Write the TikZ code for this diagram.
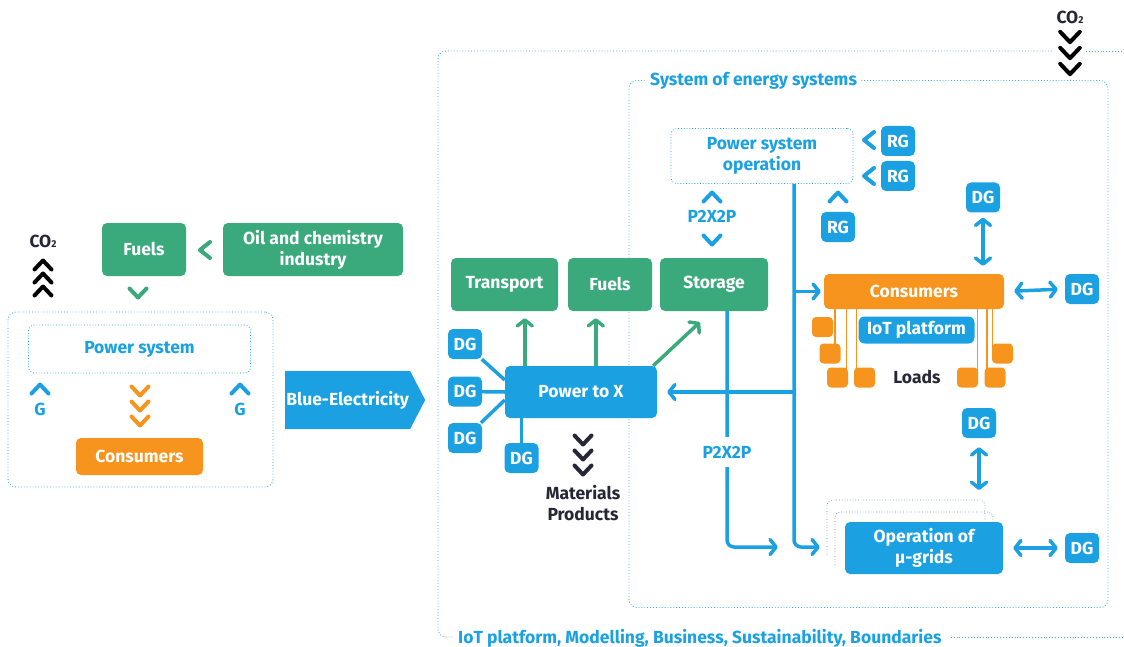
\documentclass[tikz,border=0pt]{standalone}
\usepackage{fontspec}
\setmainfont{Fira Sans}
\usetikzlibrary{arrows.meta,shapes.symbols,calc}
\definecolor{eblue}{HTML}{1BA1E2}
\definecolor{egreen}{HTML}{3AAA7D}
\definecolor{eorange}{HTML}{F7941D}
\definecolor{etext}{HTML}{262636}
\definecolor{edot}{HTML}{5C8FB0}
\begin{document}
\begin{tikzpicture}[x=1pt,y=-1pt,
  font=\bfseries\fontsize{17.5}{21}\selectfont,
  box/.style={rounded corners=5pt, text=white, align=center, inner sep=0pt},
  gbox/.style={box, fill=egreen},
  bbox/.style={box, fill=eblue},
  obox/.style={box, fill=eorange},
  dgbox/.style={bbox, minimum width=34pt, minimum height=30pt},
  loadsq/.style={fill=eorange, rounded corners=4pt, minimum width=21pt, minimum height=20pt, inner sep=0pt},
  dotbox/.style={draw=eblue, dotted, line width=0.8pt, rounded corners=6pt, text=eblue, align=center},
  frame/.style={draw=eblue!85, dotted, line width=0.9pt, rounded corners=8pt},
  lbl/.style={text=eblue, inner sep=1pt},
  bline/.style={draw=eblue, line width=3.5pt},
  barrow/.style={bline, -{Straight Barb[length=6pt,width=15pt,round]}},
  bdarrow/.style={bline, {Straight Barb[length=6pt,width=15pt,round]}-{Straight Barb[length=6pt,width=15pt,round]}},
  garrow/.style={draw=egreen, line width=3.5pt, -{Straight Barb[length=6pt,width=15pt,round]}},
  oline/.style={draw=eorange, line width=1.6pt},
  chevU/.pic={\draw[line width=4pt, line cap=round, line join=round] (-8.5,4.5)--(0,-4.5)--(8.5,4.5);},
  chevD/.pic={\draw[line width=4pt, line cap=round, line join=round] (-8.5,-4.5)--(0,4.5)--(8.5,-4.5);},
  chevL/.pic={\draw[line width=4pt, line cap=round, line join=round] (5,-8)--(-5,0)--(5,8);},
]
\useasboundingbox (0,0) rectangle (1124,647);

% ---------------- left part ----------------
\node[frame, minimum width=265pt, minimum height=175pt, inner sep=0pt] (leftframe) at (140.5,399.5) {};
\node[gbox, minimum width=84pt, minimum height=53pt] (fuelsL) at (144,249.5) {Fuels};
\node[gbox, minimum width=180pt, minimum height=53pt] (oil) at (313,249.5) {Oil and chemistry\\industry};
\node[dotbox, minimum width=222pt, minimum height=48pt] (psys) at (139.5,349) {Power system};
\node[obox, minimum width=127pt, minimum height=37pt] (consL) at (139.5,456.5) {Consumers};
\node[text=etext, inner sep=0pt] (co2L) at (43,241) {CO{\fontsize{10}{10}\selectfont 2}};
\pic[black] at (43,265) {chevU};
\pic[black] at (43,278) {chevU};
\pic[black] at (43,291) {chevU};
\pic[egreen] at (205,250) {chevL};
\pic[egreen] at (138,293) {chevD};
\pic[eblue] at (40,389) {chevU};
\node[lbl] (gL) at (40,409) {G};
\pic[eblue] at (240,389) {chevU};
\node[lbl] (gR) at (240,409) {G};
\pic[eorange] at (140,391) {chevD};
\pic[eorange] at (140,406) {chevD};
\pic[eorange] at (140,421) {chevD};

\node[shape=signal, signal to=east, signal pointer angle=125, fill=eblue, text=white,
      minimum width=140pt, minimum height=58pt, inner sep=0pt, anchor=west] (blueel) at (285,400) {Blue-Electricity};

% ---------------- outer frame ----------------
\draw[frame] (1052,51) -- (438,51) -- (438,637) -- (452,637);
\draw[frame] (1086,51) -- (1124,51);
\node[lbl, anchor=west] (iotlabel) at (457,638) {IoT platform, Modelling, Business, Sustainability, Boundaries};
\draw[frame] ([xshift=8pt]iotlabel.east |- 0,637) -- (1124,637);
\node[text=etext, inner sep=0pt] (co2R) at (1070,17) {CO{\fontsize{10}{10}\selectfont 2}};
\pic[black, scale=1.15] at (1070,37) {chevD};
\pic[black, scale=1.15] at (1070,53) {chevD};
\pic[black, scale=1.15] at (1070,69) {chevD};

% ---------------- system of energy systems ----------------
\node[frame, minimum width=479pt, minimum height=527pt, inner sep=0pt] (sos) at (868.5,344) {};
\node[fill=white, text=eblue, anchor=west, inner sep=4pt] (sostitle) at (646,81) {System of energy systems};

\node[dotbox, minimum width=182pt, minimum height=55pt, inner sep=0pt] (pso) at (762,156) {Power system\\operation};
\node[dgbox] (rg1) at (898,141) {RG};
\node[dgbox] (rg2) at (898,176) {RG};
\node[dgbox] (rg3) at (838,227) {RG};
\pic[eblue] at (869,140) {chevL};
\pic[eblue] at (869,176) {chevL};
\pic[eblue] at (838,197) {chevU};
\pic[eblue] at (712,197) {chevU};
\node[lbl] (p2x2pA) at (712,216) {P2X2P};
\pic[eblue] at (712,240) {chevD};

\node[gbox, minimum width=107pt, minimum height=53pt] (transport) at (504.5,284.5) {Transport};
\node[gbox, minimum width=84pt, minimum height=53pt] (fuelsR) at (610,284.5) {Fuels};
\node[gbox, minimum width=108pt, minimum height=53pt] (storage) at (714,284.5) {Storage};
\node[bbox, minimum width=152pt, minimum height=52pt] (p2x) at (581,392) {Power to X};

\node[dgbox] (dg1) at (465,344) {DG};
\node[dgbox] (dg2) at (465,391.5) {DG};
\node[dgbox] (dg3) at (465,438) {DG};
\node[dgbox] (dg4) at (521.5,458) {DG};
\draw[bline] (dg1) -- ($(p2x.west)+(0,-12)$);
\draw[bline] (dg2) -- (p2x.west);
\draw[bline] (dg3) -- ($(p2x.west)+(0,8)$);
\draw[bline] (dg4) -- (dg4 |- p2x.south);

\draw[garrow] ($(p2x.north west)+(20,0)$) -- ($(transport.south west)+(74,7)$);
\draw[garrow] ($(p2x.north west)+(91,0)$) -- ($(fuelsR.south west)+(28,7)$);
\draw[garrow] ($(p2x.north east)+(-4,0)$) -- ($(storage.south west)+(40,11)$);

\pic[etext] at (583,440) {chevD};
\pic[etext] at (583,455) {chevD};
\pic[etext] at (583,470) {chevD};
\node[text=etext, align=center, inner sep=0pt] (mat) at (583,503) {Materials\\Products};

% consumers / loads
\node[obox, minimum width=180pt, minimum height=35pt] (cons) at (914,291.5) {Consumers};
\node[loadsq] (l1) at (822.5,327) {};
\node[loadsq] (l2) at (830,353.5) {};
\node[loadsq] (l3) at (837.5,377.5) {};
\node[loadsq] (l4) at (864.5,377.5) {};
\node[loadsq] (r1) at (967.5,377.5) {};
\node[loadsq] (r2) at (995,377.5) {};
\node[loadsq] (r3) at (1002.5,353.5) {};
\draw[oline] ([xshift=5pt]l2.center) -- ([xshift=5pt]l2.center |- cons.south);
\draw[oline] ([xshift=9pt]l3.center) -- ([xshift=9pt]l3.center |- cons.south);
\draw[oline] ([xshift=-8pt]l4.center) -- ([xshift=-8pt]l4.center |- cons.south);
\draw[oline] ([xshift=10pt]r1.center) -- ([xshift=10pt]r1.center |- cons.south);
\draw[oline] ([xshift=-8pt]r2.center) -- ([xshift=-8pt]r2.center |- cons.south);
\draw[oline] ([xshift=-10pt]r3.center) -- ([xshift=-10pt]r3.center |- cons.south);
\node[bbox, rounded corners=6pt, minimum width=116pt, minimum height=27pt] (iot) at (916.5,330) {IoT platform};
\node[text=etext, inner sep=0pt] (loads) at (917,377) {Loads};

\node[dgbox] (dg5) at (983,197.5) {DG};
\node[dgbox] (dg6) at (1082,289) {DG};
\node[dgbox] (dg7) at (979,423) {DG};
\node[dgbox] (dg8) at (1082,548) {DG};

% micro grids
\draw[draw=edot, dotted, line width=0.7pt, rounded corners=5pt] (827,555) -- (827,500) -- (985,500) -- (985,520);
\draw[draw=edot, dotted, line width=0.7pt, rounded corners=5pt] (835,565) -- (835,512) -- (993,512) -- (993,522);
\node[bbox, minimum width=158pt, minimum height=52pt] (mgrid) at (924,548) {Operation of\\µ-grids};

% bus and arrows
\coordinate (busT) at ($(pso.south)+(32,0)$);
\coordinate (mgIn1) at ($(mgrid.west)+(-25,-1)$);
\coordinate (mgIn2) at ($(mgrid.west)+(-67,-1)$);
\draw[barrow, rounded corners=7pt] (busT) |- (mgIn1);
\draw[barrow, shorten >=10pt] (busT |- p2x.east) -- (p2x.east);
\draw[barrow, shorten >=3pt] (busT |- cons.west) -- (cons.west);
\draw[barrow, rounded corners=7pt] ($(storage.south)+(13,0)$) |- (mgIn2);
\node[fill=white, text=eblue, inner xsep=2pt, inner ysep=9pt] (p2x2pB) at (727,452) {P2X2P};

\draw[bdarrow, shorten <=5pt, shorten >=8pt] (dg5) -- (dg5 |- cons.north);
\draw[bdarrow, shorten <=10pt, shorten >=7pt] (cons.east) -- (dg6.west);
\draw[bdarrow, shorten <=9pt, shorten >=10pt] (dg7.south) -- (dg7.south |- 0,500);
\draw[bdarrow, shorten <=10pt, shorten >=7pt] (mgrid.east) -- (dg8.west);
\end{tikzpicture}
\end{document}
